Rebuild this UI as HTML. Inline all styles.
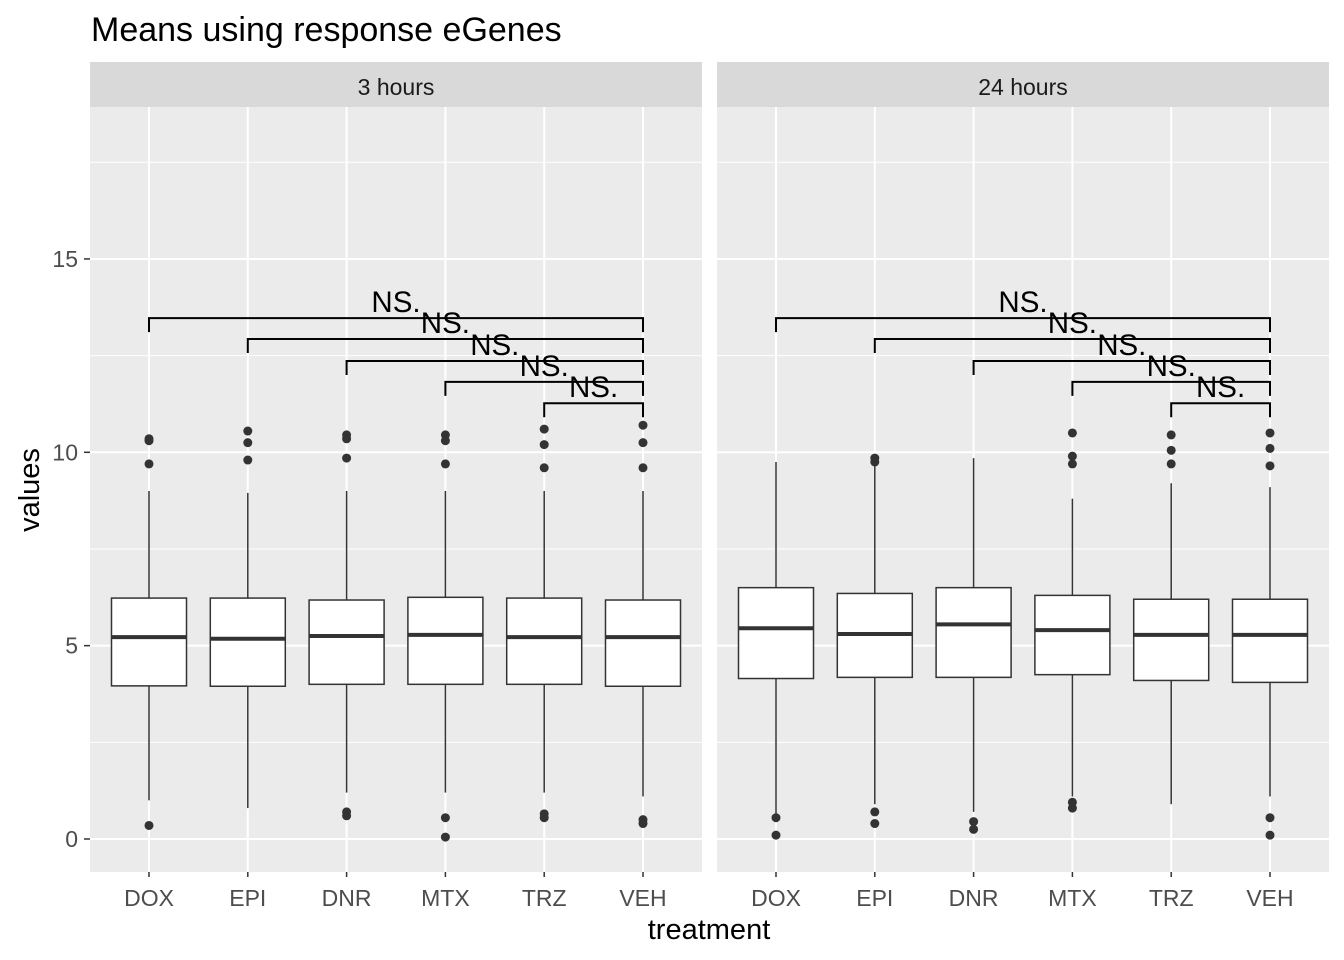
<!DOCTYPE html>
<html><head><meta charset="utf-8"><style>body{margin:0;background:#fff}svg{display:block}text{font-family:"Liberation Sans",sans-serif}</style></head>
<body>
<svg id="c" width="1344" height="960"></svg>
<script>
const categories=["DOX","EPI","DNR","MTX","TRZ","VEH"];
const panels=["3 hours","24 hours"];
const lo3=[1.0,0.8,1.2,1.2,1.2,1.1];
const q1_3=[3.96,3.95,4.0,4.0,4.0,3.95];
const med3=[5.22,5.18,5.25,5.28,5.22,5.22];
const q3_3=[6.23,6.23,6.18,6.25,6.23,6.18];
const hi3=[9.0,8.95,9.0,9.0,9.0,9.0];
const out3=[[10.35,10.3,9.7,0.35],[10.55,10.25,9.8],[10.45,10.35,9.85,0.7,0.6],[10.45,10.3,9.7,0.55,0.05],[10.6,10.2,9.6,0.65,0.55],[10.7,10.25,9.6,0.5,0.4]];
const lo24=[0.6,0.9,0.7,1.1,0.9,1.1];
const q1_24=[4.15,4.18,4.18,4.25,4.1,4.05];
const med24=[5.45,5.3,5.55,5.4,5.28,5.28];
const q3_24=[6.5,6.35,6.5,6.3,6.2,6.2];
const hi24=[9.75,9.7,9.85,8.8,9.2,9.1];
const out24=[[0.55,0.1],[9.85,9.75,0.7,0.4],[0.45,0.25],[10.5,9.9,9.7,0.95,0.8],[10.45,10.05,9.7],[10.5,10.1,9.65,0.55,0.1]];
const bracketY=[13.47,12.93,12.36,11.82,11.27];
const bracketFrom=[0,1,2,3,4];
const bracketLabels=["NS.","NS.","NS.","NS.","NS."];
const yTicks=[0,5,10,15];
const yMinor=[2.5,7.5,12.5,17.5];

const svg=document.getElementById('c');const NS='http://www.w3.org/2000/svg';
function mk(t,a,p){const e=document.createElementNS(NS,t);for(const k in a)e.setAttribute(k,a[k]);(p||svg).appendChild(e);return e;}
const Y=v=>839-v*38.67;
const px=[90,717],pw=612,plotTop=107,plotBot=872;
const X=(p,i)=>px[p]+59+i*98.8;
const data=[[lo3,q1_3,med3,q3_3,hi3,out3],[lo24,q1_24,med24,q3_24,hi24,out24]];
let t=mk('text',{x:91,y:41,'font-size':34,fill:'#000'});


t.textContent='Means using response eGenes';
for(let p=0;p<2;p++){
 const g=mk('g',{});
 
 
 let s=mk('rect',{x:px[p],y:62,width:pw,height:45,fill:'#d9d9d9'},g);
 
 
 let st=mk('text',{x:px[p]+pw/2,y:95,'font-size':23,fill:'#1a1a1a','text-anchor':'middle'},g);
 
 
 st.textContent=panels[p];
 let bg=mk('rect',{x:px[p],y:plotTop,width:pw,height:plotBot-plotTop,fill:'#ebebeb'},g);
 
 
 yMinor.forEach(v=>mk('line',{x1:px[p],x2:px[p]+pw,y1:Y(v),y2:Y(v),stroke:'#fff','stroke-width':1},g));
 yTicks.forEach(v=>mk('line',{x1:px[p],x2:px[p]+pw,y1:Y(v),y2:Y(v),stroke:'#fff','stroke-width':2},g));
 categories.forEach((c,i)=>{mk('line',{x1:X(p,i),x2:X(p,i),y1:plotTop,y2:plotBot,stroke:'#fff','stroke-width':2},g);
  mk('line',{x1:X(p,i),x2:X(p,i),y1:plotBot,y2:plotBot+5,stroke:'#333','stroke-width':1.5},g);
  let l=mk('text',{x:X(p,i),y:906,'font-size':23,fill:'#4d4d4d','text-anchor':'middle'},g);
  
  
  l.textContent=c;});
 const [lo,q1,md,q3,hi,out]=data[p];
 categories.forEach((c,i)=>{const x=X(p,i),w=75;
  const b=mk('g',{},g);
  
  
  mk('line',{x1:x,x2:x,y1:Y(hi[i]),y2:Y(q3[i]),stroke:'#333','stroke-width':1.5},b);
  mk('line',{x1:x,x2:x,y1:Y(q1[i]),y2:Y(lo[i]),stroke:'#333','stroke-width':1.5},b);
  mk('rect',{x:x-w/2,y:Y(q3[i]),width:w,height:Y(q1[i])-Y(q3[i]),fill:'#fff',stroke:'#333','stroke-width':1.5},b);
  mk('line',{x1:x-w/2,x2:x+w/2,y1:Y(md[i]),y2:Y(md[i]),stroke:'#333','stroke-width':4},b);
  out[i].forEach(v=>{const o=mk('circle',{cx:x,cy:Y(v),r:4.5,fill:'#333'},b);
   
   });
 });
 bracketY.forEach((v,k)=>{const x1=X(p,bracketFrom[k]),x2=X(p,5),y=Y(v);
  const b=mk('g',{},g);
  
  
  mk('path',{d:`M${x1},${y+14}V${y}H${x2}V${y+14}`,fill:'none',stroke:'#000','stroke-width':2},b);
  const l=mk('text',{x:(x1+x2)/2,y:y-6,'font-size':29.5,fill:'#000','text-anchor':'middle'},b);l.textContent=bracketLabels[k];});
}
yTicks.forEach(v=>{mk('line',{x1:84,x2:90,y1:Y(v),y2:Y(v),stroke:'#333','stroke-width':1.5});
 const l=mk('text',{x:78,y:Y(v)+8,'font-size':23,fill:'#4d4d4d','text-anchor':'end'});
 
 
 l.textContent=v;});
t=mk('text',{x:709,y:939,'font-size':29,fill:'#000','text-anchor':'middle'});


t.textContent='treatment';
t=mk('text',{x:0,y:0,'font-size':29,fill:'#000','text-anchor':'middle',transform:'translate(39,490) rotate(-90)'});


t.textContent='values';
</script>
</body></html>
